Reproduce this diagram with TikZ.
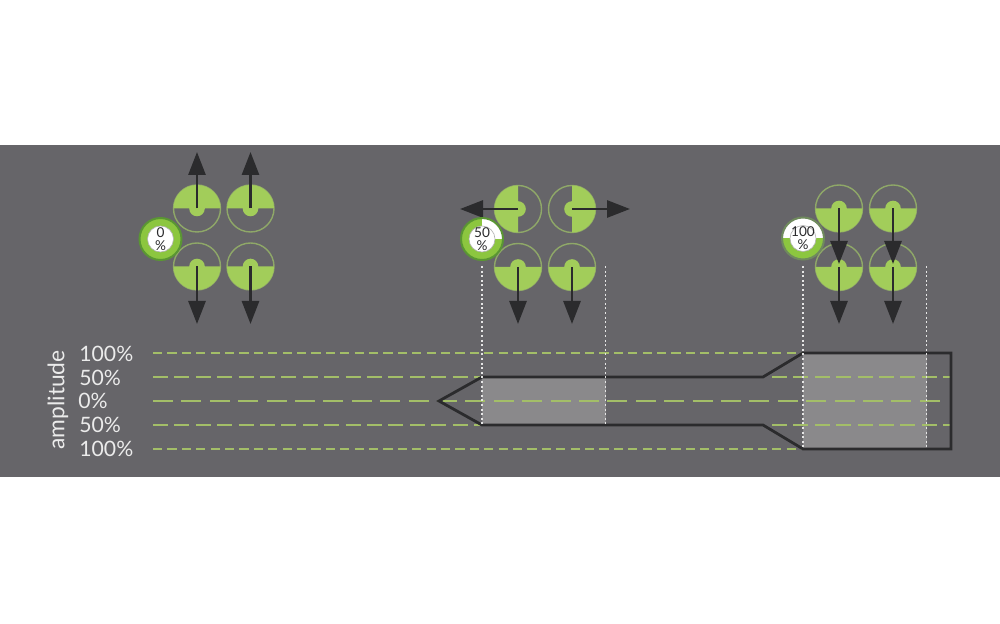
\documentclass[tikz,border=0pt]{standalone}
\usepackage{fontspec}
\setmainfont{Lato}
\usetikzlibrary{arrows.meta}
\definecolor{bandgray}{HTML}{666569}
\definecolor{windowgray}{HTML}{8A898B}
\definecolor{leafgreen}{HTML}{A2CD5A}
\definecolor{rimgreen}{HTML}{8FA868}
\definecolor{ringgreen}{HTML}{8CC63F}
\definecolor{edgegreen}{HTML}{5A9633}
\definecolor{levelgreen}{HTML}{A3BE68}
\definecolor{inkdark}{HTML}{2B2B2D}

\begin{document}
\begin{tikzpicture}[x=0.5pt, y=-0.5pt,
    disc/.style={circle, draw=rimgreen, line width=0.7pt, minimum size=23.5pt, inner sep=0pt},
    leaf/.pic={
        \fill[leafgreen] (-11.75pt,0pt) arc[start angle=180, end angle=0, radius=11.75pt] -- cycle;
        \fill[leafgreen] (0pt,0pt) circle (3.9pt);
    },
    gauge/.style={circle, draw=edgegreen, line width=1pt, fill=ringgreen, minimum size=21pt, inner sep=0pt},
    hole/.style={circle, fill=white, draw=gray!60, line width=0.3pt, minimum size=13pt, inner sep=0pt},
    gaugetxt/.style={align=center, text=inkdark, inner sep=0pt, font=\fontsize{6.8}{6.6}\selectfont},
    pull/.style={-{Triangle[width=8.5pt, length=11.5pt]}, draw=inkdark, line width=1.4pt},
    level/.style={draw=levelgreen, line width=1pt},
    pct/.style={anchor=west, text=white!92!black, font=\fontsize{10.6}{11}\selectfont, inner sep=0pt},
    guide/.style={draw=white!90!black, line width=0.9pt, dash pattern=on 1pt off 1.3pt}
]
\useasboundingbox (0,0) rectangle (1000,624);
\fill[white] (0,0) rectangle (1000,624);
\fill[bandgray] (0,145) rectangle (1000,477);

\node[pct] (lbl100a) at (79,354) {100\%};
\node[pct] (lbl50a)  at (79,378) {50\%};
\node[pct] (lbl0)    at (78,401) {0\%};
\node[pct] (lbl50b)  at (79,425) {50\%};
\node[pct] (lbl100b) at (79,449) {100\%};
\node[text=white!92!black, rotate=90, font=\fontsize{11.4}{12}\selectfont, inner sep=0pt] (amp) at (58,400) {amplitude};

\coordinate (hullA) at (439,401);
\coordinate (hullB) at (482,377);
\coordinate (hullC) at (763,377);
\coordinate (hullD) at (803,353);
\coordinate (hullE) at (951,353);
\coordinate (hullF) at (951,449);
\coordinate (hullG) at (803,449);
\coordinate (hullH) at (763,425);
\coordinate (hullI) at (482,425);
\coordinate (win50) at (605.5,425);
\coordinate (win100) at (926.5,449);

\fill[windowgray] (hullB) rectangle (win50);
\fill[windowgray] (hullD) rectangle (win100);

\coordinate (a1) at (153,353);
\coordinate (a2) at (153,377);
\coordinate (a3) at (153,401);
\coordinate (a4) at (153,425);
\coordinate (a5) at (153,449);
\coordinate (b2) at (772,377);
\coordinate (b3) at (940,401);
\coordinate (b4) at (772,425);
\coordinate (c2) at (950,377);
\coordinate (c4) at (950,425);

\draw[level, dash pattern=on 4.6pt off 2.6pt] (a1) -- (hullD);
\draw[level, dash pattern=on 7.5pt off 3.2pt] (a2) -- (hullB);
\draw[level, dash pattern=on 7.5pt off 3.2pt] (b2) -- (c2);
\draw[level, dash pattern=on 10pt off 4.2pt] (a3) -- (b3);
\draw[level, dash pattern=on 7.5pt off 3.2pt] (a4) -- (hullI);
\draw[level, dash pattern=on 7.5pt off 3.2pt] (b4) -- (c4);
\draw[level, dash pattern=on 4.6pt off 2.6pt] (a5) -- (hullG);

\draw[inkdark, line width=1.4pt, line join=miter] (hullA) -- (hullB) -- (hullC) -- (hullD) -- (hullE) -- (hullF) -- (hullG) -- (hullH) -- (hullI) -- cycle;

\coordinate (g1) at (482,266);
\coordinate (g2) at (605.5,266);
\coordinate (g3) at (803,266);
\coordinate (g4) at (926.5,266);
\coordinate (g5) at (605.5,425);
\coordinate (g6) at (926.5,449);
\draw[guide] (g1) -- (hullI);
\draw[guide] (g2) -- (g5);
\draw[guide] (g3) -- (hullG);
\draw[guide] (g4) -- (g6);

\node[disc] (d1) at (197,208.5) {};
\node[disc] (d2) at (250.5,208.5) {};
\node[disc] (d3) at (197,266.5) {};
\node[disc] (d4) at (250.5,266.5) {};
\node[disc] (e1) at (518,209) {};
\node[disc] (e2) at (572,209) {};
\node[disc] (e3) at (518,267) {};
\node[disc] (e4) at (572,267) {};
\node[disc] (f1) at (839,208.5) {};
\node[disc] (f2) at (893,208.5) {};
\node[disc] (f3) at (839,267) {};
\node[disc] (f4) at (893,267) {};

\pic at (d1) {leaf};
\pic at (d2) {leaf};
\pic[rotate=180] at (d3) {leaf};
\pic[rotate=180] at (d4) {leaf};
\pic[rotate=90] at (e1) {leaf};
\pic[rotate=-90] at (e2) {leaf};
\pic[rotate=180] at (e3) {leaf};
\pic[rotate=180] at (e4) {leaf};
\pic[rotate=180] at (f1) {leaf};
\pic[rotate=180] at (f2) {leaf};
\pic[rotate=180] at (f3) {leaf};
\pic[rotate=180] at (f4) {leaf};

\coordinate (td1) at (197,152);
\coordinate (td2) at (250.5,152);
\coordinate (td3) at (197,324);
\coordinate (td4) at (250.5,324);
\coordinate (te1) at (460,209);
\coordinate (te2) at (630,209);
\coordinate (te3) at (518,324);
\coordinate (te4) at (572,324);
\coordinate (tf1) at (839,264);
\coordinate (tf2) at (893,264);
\coordinate (tf3) at (839,324);
\coordinate (tf4) at (893,324);

\draw[pull] (d1.center) -- (td1);
\draw[pull] (d2.center) -- (td2);
\draw[pull] (d3.center) -- (td3);
\draw[pull] (d4.center) -- (td4);
\draw[pull] (e1.center) -- (te1);
\draw[pull] (e2.center) -- (te2);
\draw[pull] (e3.center) -- (te3);
\draw[pull] (e4.center) -- (te4);
\draw[pull] (f3.center) -- (tf3);
\draw[pull] (f4.center) -- (tf4);
\draw[pull] (f1.center) -- (tf1);
\draw[pull] (f2.center) -- (tf2);

\node[gauge] (base0) at (160.5,239) {};
\node[hole] (hole0) at (base0) {};
\node[gaugetxt] (txt0) at (base0) {0\\\%};

\node[gauge, path picture={\fill[white] (path picture bounding box.center) rectangle ++(12pt,12pt);}] (base50) at (482,239) {};
\node[hole] (hole50) at (base50) {};
\node[gaugetxt] (txt50) at (base50) {50\\\%};

\node[gauge, draw=edgegreen!45!gray, path picture={\fill[white] (path picture bounding box.center) ++(-12pt,0pt) rectangle ++(24pt,12pt);}] (base100) at (803,238.5) {};
\node[hole] (hole100) at (base100) {};
\node[gaugetxt] (txt100) at (base100) {100\\\%};
\end{tikzpicture}
\end{document}
